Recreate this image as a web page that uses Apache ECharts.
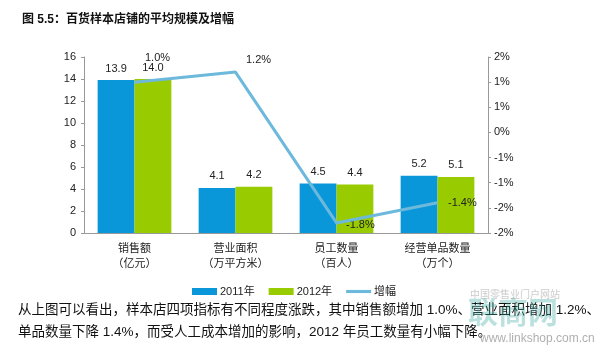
<!DOCTYPE html>
<html>
<head>
<meta charset="utf-8">
<script src="https://cdn.jsdelivr.net/npm/echarts@6/dist/echarts.min.js"></script>
<style>
  html, body { margin: 0; padding: 0; background: #fff; }
  #chart { width: 604px; height: 352px; }
</style>
</head>
<body>
<div id="chart"></div>
<script>
  const categories = ["销售额\n（亿元）", "营业面积\n（万平方米）", "员工数量\n（百人）", "经营单品数量\n（万个）"];
  const values2011 = [13.9, 4.1, 4.5, 5.2];
  const values2012 = [14.0, 4.2, 4.4, 5.1];
  const growth = [1.0, 1.2, -1.8, -1.4];

  // label nudges for the growth line
  const growthLabelOffsets = [[5, -24], [5, -12], [4, 2], [5, 0]];

  const font = "'Liberation Sans', 'Noto Sans CJK SC', sans-serif";

  var myChart = echarts.init(document.getElementById("chart"));
  myChart.setOption({
    animation: false,
    textStyle: { fontFamily: font },
    title: {
      text: "图 5.5：百货样本店铺的平均规模及增幅",
      left: 17,
      top: 9,
      textStyle: { fontSize: 12, fontWeight: "bold", color: "#111", fontFamily: font }
    },
    legend: {
      top: 281,
      left: 187,
      itemWidth: 25,
      itemHeight: 7,
      itemGap: 14,
      textStyle: { fontSize: 11, color: "#222", padding: [0, 0, 0, -2] },
      data: [
        { name: "2011年", icon: "rect" },
        { name: "2012年", icon: "rect" },
        { name: "增幅", icon: "path://M0,0H24V3H0Z" }
      ]
    },
    grid: { left: 84, right: 116, top: 57, bottom: 119 },
    xAxis: {
      type: "category",
      data: categories,
      axisLine: { lineStyle: { color: "#999" } },
      axisTick: { show: false },
      axisLabel: { color: "#222", fontSize: 11, lineHeight: 15, margin: 8 }
    },
    yAxis: [
      {
        type: "value",
        min: 0,
        max: 16,
        interval: 2,
        splitLine: { show: false },
        axisLine: { show: true, lineStyle: { color: "#999" } },
        axisTick: { show: true, length: 3, lineStyle: { color: "#999" } },
        axisLabel: { color: "#222", fontSize: 11, margin: 8 }
      },
      {
        type: "value",
        min: -2,
        max: 1.5,
        interval: 0.5,
        splitLine: { show: false },
        axisLine: { show: true, lineStyle: { color: "#999" } },
        axisTick: { show: true, length: 3, lineStyle: { color: "#999" } },
        axisLabel: {
          color: "#222",
          fontSize: 11,
          margin: 6,
          formatter: function (v) {
            var r = Math.round(Math.abs(v));
            return (v < 0 && r !== 0 ? "-" : "") + r + "%";
          }
        }
      }
    ],
    series: [
      {
        name: "2011年",
        type: "bar",
        data: values2011,
        barGap: "0%",
        barCategoryGap: "27%",
        itemStyle: { color: "#0a97d9" },
        label: { show: true, position: "top", color: "#222", fontSize: 11, distance: 6, formatter: p => p.value.toFixed(1) }
      },
      {
        name: "2012年",
        type: "bar",
        data: values2012,
        itemStyle: { color: "#99cc00" },
        label: { show: true, position: "top", color: "#222", fontSize: 11, distance: 6, formatter: p => p.value.toFixed(1) }
      },
      {
        name: "增幅",
        type: "line",
        yAxisIndex: 1,
        symbol: "none",
        lineStyle: { color: "#6cb9dc", width: 3 },
        itemStyle: { color: "#6cb9dc" },
        data: growth
      },
      {
        // invisible points that carry the growth labels
        name: "增幅标签",
        type: "scatter",
        yAxisIndex: 1,
        symbolSize: 1,
        itemStyle: { color: "rgba(0,0,0,0)", opacity: 1 },
        silent: true,
        data: growth.map((v, i) => ({
          value: v,
          label: { offset: growthLabelOffsets[i] }
        })),
        label: {
          show: true,
          position: "right",
          color: "#222",
          fontSize: 11,
          formatter: p => p.value.toFixed(1) + "%"
        }
      }
    ],
    graphic: [
      {
        type: "text",
        left: 18,
        top: 304,
        style: {
          text: "从上图可以看出，样本店四项指标有不同程度涨跌，其中销售额增加 1.0%、营业面积增加 1.2%、",
          font: "13.5px " + font,
          fill: "#111"
        }
      },
      {
        type: "text",
        left: 18,
        top: 326,
        style: {
          text: "单品数量下降 1.4%，而受人工成本增加的影响，2012 年员工数量有小幅下降。",
          font: "13.5px " + font,
          fill: "#111"
        }
      },
      {
        type: "text",
        left: 470,
        top: 290,
        style: { text: "中国零售业门户网站", font: "10px " + font, fill: "rgba(150,150,150,0.5)" }
      },
      {
        type: "text",
        left: 468,
        top: 300,
        style: { text: "联商网", font: "bold 30px " + font, fill: "rgba(60,170,160,0.35)" }
      },
      {
        type: "text",
        left: 480,
        top: 333,
        style: { text: "www.linkshop.com.cn", font: "12px " + font, fill: "rgba(120,120,120,0.6)" }
      }
    ]
  });

  window.addEventListener("resize", () => {
    myChart.resize();
  });
</script>
</body>
</html>
